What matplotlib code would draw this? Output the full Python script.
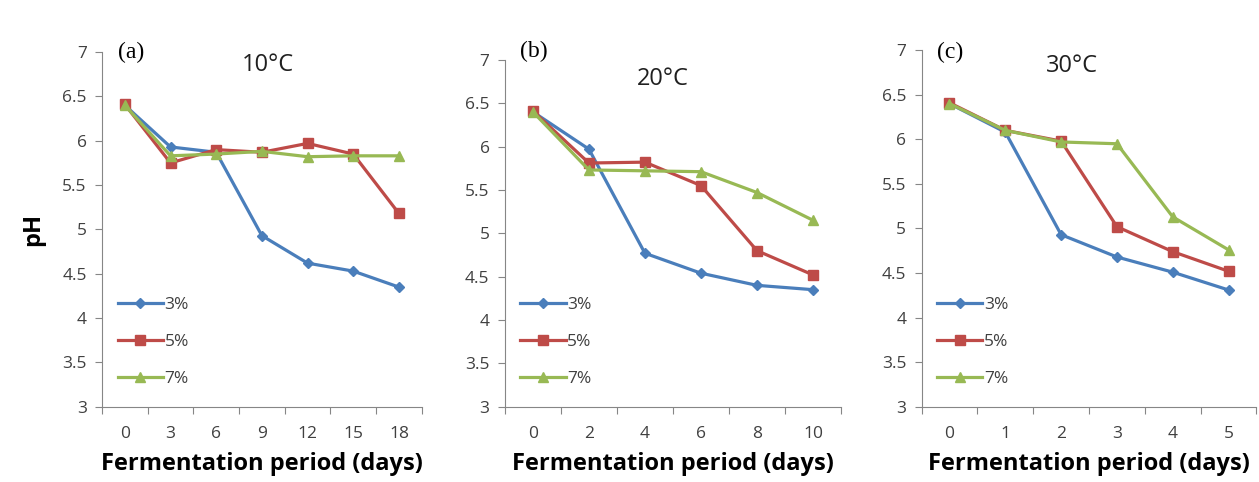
import matplotlib.pyplot as plt

# data
days_a = ["0", "3", "6", "9", "12", "15", "18"]
ph3_a = [6.40, 5.93, 5.87, 4.93, 4.62, 4.53, 4.35]
ph5_a = [6.41, 5.75, 5.90, 5.87, 5.97, 5.85, 5.18]
ph7_a = [6.40, 5.83, 5.85, 5.88, 5.82, 5.83, 5.83]

days_b = ["0", "2", "4", "6", "8", "10"]
ph3_b = [6.40, 5.97, 4.77, 4.54, 4.40, 4.35]
ph5_b = [6.41, 5.81, 5.82, 5.55, 4.80, 4.52]
ph7_b = [6.40, 5.73, 5.72, 5.71, 5.47, 5.15]

days_c = ["0", "1", "2", "3", "4", "5"]
ph3_c = [6.40, 6.08, 4.93, 4.68, 4.51, 4.31]
ph5_c = [6.41, 6.10, 5.98, 5.02, 4.74, 4.52]
ph7_c = [6.40, 6.10, 5.97, 5.95, 5.13, 4.76]

series_labels = ["3%", "5%", "7%"]
panel_labels = ["(a)", "(b)", "(c)"]
temps = ["10°C", "20°C", "30°C"]

colors = ["#4A7EBB", "#BE4B48", "#98B954"]
markers = ["D", "s", "^"]
msizes = [5.5, 7.5, 7.5]
axcol = "#868686"
txtcol = "#404040"

plt.rcParams['font.family'] = ['Open Sans', 'DejaVu Sans']

fig = plt.figure(figsize=(12.59, 4.82), dpi=100)
# axes boxes [left, bottom, width, height] in figure fraction
boxes = [[0.081, 0.156, 0.254, 0.736],
         [0.401, 0.156, 0.267, 0.720],
         [0.732, 0.156, 0.266, 0.740]]
title_pos = [(0.52, 0.963), (0.47, 0.945), (0.45, 0.955)]
plab_pos = [(0.05, 1.0), (0.045, 1.023), (0.045, 0.994)]

panels = [(days_a, [ph3_a, ph5_a, ph7_a]),
          (days_b, [ph3_b, ph5_b, ph7_b]),
          (days_c, [ph3_c, ph5_c, ph7_c])]

for i, (days, ys) in enumerate(panels):
    ax = fig.add_axes(boxes[i])
    n = len(days)
    xs = list(range(n))
    for k in range(3):
        ax.plot(xs, ys[k], color=colors[k], marker=markers[k], markersize=msizes[k],
                linewidth=2.3, label=series_labels[k], clip_on=False)
    ax.set_xlim(-0.5, n - 0.5)
    ax.set_ylim(3, 7)
    ax.set_yticks([3, 3.5, 4, 4.5, 5, 5.5, 6, 6.5, 7])
    ax.set_yticklabels(["3", "3.5", "4", "4.5", "5", "5.5", "6", "6.5", "7"])
    # category axis: ticks between categories, labels at centers
    ax.set_xticks([j - 0.5 for j in range(n + 1)])
    ax.set_xticklabels([])
    ax.set_xticks(xs, minor=True)
    ax.set_xticklabels(days, minor=True)
    ax.tick_params(axis='x', which='major', length=5, color=axcol, direction='out')
    ax.tick_params(axis='x', which='minor', length=0, pad=14, labelsize=12.5, labelcolor=txtcol)
    ax.tick_params(axis='y', length=5, color=axcol, labelsize=12.5, labelcolor=txtcol, pad=6)
    for s in ['top', 'right']:
        ax.spines[s].set_visible(False)
    for s in ['left', 'bottom']:
        ax.spines[s].set_color(axcol)
    ax.set_xlabel("Fermentation period (days)", fontsize=17, fontweight='bold', labelpad=7)
    if i == 0:
        ax.set_ylabel("pH", fontsize=17, fontweight='bold', labelpad=12)
    ax.text(title_pos[i][0], title_pos[i][1], temps[i], transform=ax.transAxes,
            ha='center', va='center', fontsize=17, color='#202020')
    ax.text(plab_pos[i][0], plab_pos[i][1], panel_labels[i], transform=ax.transAxes,
            ha='left', va='center', fontsize=17, family='Liberation Serif')
    ax.legend(loc='lower left', bbox_to_anchor=(0.0, 0.012), frameon=False,
              fontsize=12.5, handlelength=2.6, handletextpad=0.1, labelspacing=1.2,
              labelcolor=txtcol)

fig.savefig("out.png", dpi=100)
